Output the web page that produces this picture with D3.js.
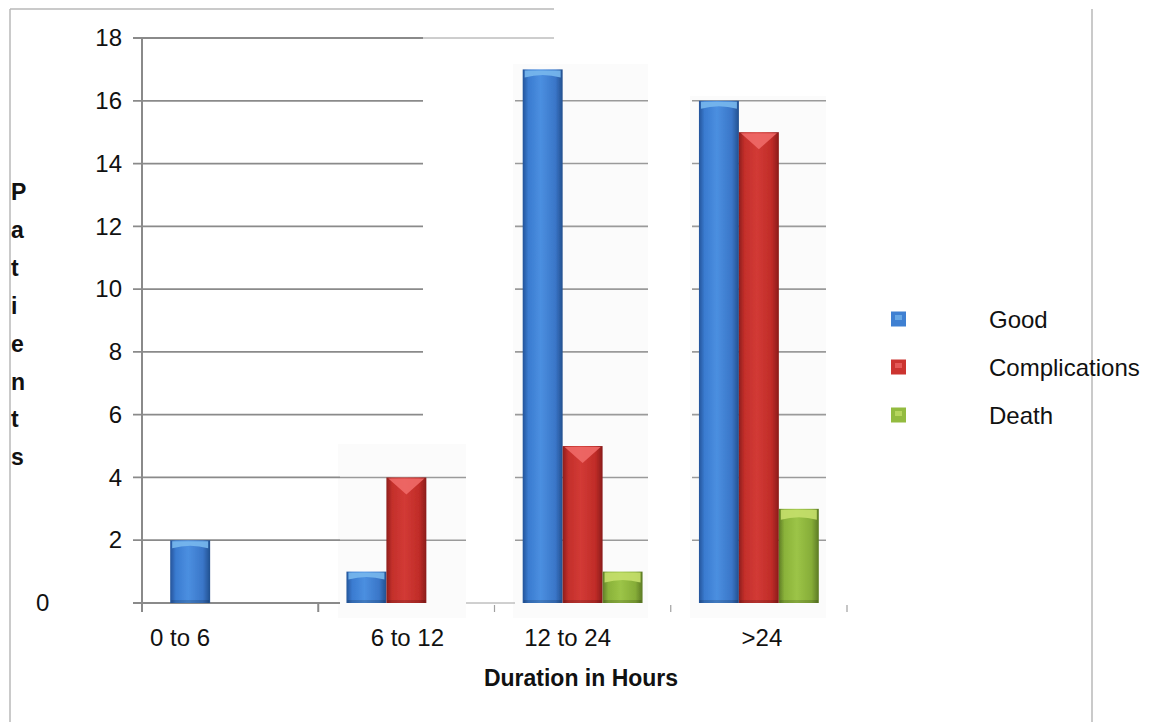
<!DOCTYPE html>
<html><head><meta charset="utf-8">
<script src="https://cdn.jsdelivr.net/npm/d3@7"></script>
<style>
html,body{margin:0;padding:0;background:#fff;}
svg{display:block;font-family:"Liberation Sans",Arial,sans-serif;}
</style></head><body>
<svg id="chart" width="1159" height="722"></svg>
<script>
// Patient outcome by duration (hours)
const categories = ["0 to 6", "6 to 12", "12 to 24", ">24"];
const seriesNames = ["Good", "Complications", "Death"];
const good = [2, 1, 17, 16];
const complications = [0, 4, 5, 15];
const death = [0, 0, 1, 3];
const yTicks = [0, 2, 4, 6, 8, 10, 12, 14, 16, 18];
const xTitle = "Duration in Hours";
const yTitle = "Patients";

const seriesValues = [good, complications, death];
const rows = [];
categories.forEach((c, ci) => seriesNames.forEach((s, si) => rows.push({cat: c, series: s, value: seriesValues[si][ci]})));

const svg = d3.select("#chart");
const x = d3.scaleBand().domain(categories).range([142, 847]);
const bw = x.bandwidth();
const xSub = d3.scaleBand().domain(seriesNames).range([bw * 0.16, bw * 0.84]);
const y = d3.scaleLinear().domain([0, 18]).range([603, 38]);

// colour ramps for the bevelled bars
const palette = {
  Good: {stops: ["#24549a", "#3a7bd0", "#4b8fe0", "#3a76c8", "#22508f"], cap: "#78b8ee", swatch: "#3f80d2"},
  Complications: {stops: ["#8e1e1c", "#c32f2b", "#d23a35", "#c02c28", "#8a1c1a"], cap: "#f06a68", swatch: "#cc3430"},
  Death: {stops: ["#5f7d26", "#8ab23a", "#9cc447", "#86ad38", "#5c7a24"], cap: "#c6e06c", swatch: "#93bb40"}
};
const defs = svg.append("defs");
seriesNames.forEach((s, i) => {
  const g = defs.append("linearGradient").attr("id", "grad" + i).attr("x1", 0).attr("x2", 1).attr("y1", 0).attr("y2", 0);
  [0, 0.14, 0.45, 0.82, 1].forEach((o, k) => g.append("stop").attr("offset", o).attr("stop-color", palette[s].stops[k]));
});
defs.append("filter").attr("id", "soft").append("feGaussianBlur").attr("stdDeviation", 0.5);

// faint backdrop behind the right-hand groups
const backdrops = [
  {x0: 338, x1: 466, y0: 444, y1: 618},
  {x0: 513, x1: 648, y0: 64, y1: 618},
  {x0: 690, x1: 826, y0: 96, y1: 618}
];
svg.selectAll(null).data(backdrops).join("rect")
  .attr("x", d => d.x0).attr("y", d => d.y0).attr("width", d => d.x1 - d.x0).attr("height", d => d.y1 - d.y0)
  .attr("fill", "#fbfbfb");

// outer frame
const frame = svg.append("g").attr("stroke", "#b8b8b8").attr("stroke-width", 1.5).attr("fill", "none");
frame.append("line").attr("x1", 10).attr("x2", 10).attr("y1", 9).attr("y2", 722);
frame.append("line").attr("x1", 10).attr("x2", 554).attr("y1", 9).attr("y2", 9);
frame.append("line").attr("x1", 1092).attr("x2", 1092).attr("y1", 9).attr("y2", 722);

// gridline pieces
const gridPieces = [
  {vals: [6, 8, 10, 12, 14, 16, 18], x0: 133, x1: 423, c: "#8a8a8a", w: 1.8},
  {vals: [2, 4], x0: 133, x1: 340, c: "#8a8a8a", w: 1.8},
  {vals: [0], x0: 133, x1: 340, c: "#8a8a8a", w: 1.8},
  {vals: [2, 4], x0: 340, x1: 466, c: "#9a9a9a", w: 1.6},
  {vals: [18], x0: 423, x1: 554, c: "#9c9c9c", w: 1},
  {vals: [0], x0: 466, x1: 515, c: "#a0a0a0", w: 1},
  {vals: [2, 4, 6, 8, 10, 12, 14, 16], x0: 515, x1: 648, c: "#9a9a9a", w: 1.6},
  {vals: [2, 4, 6, 8, 10, 12, 14, 16], x0: 692, x1: 826, c: "#9a9a9a", w: 1.6}
];
const grid = svg.append("g");
gridPieces.forEach(p => {
  grid.selectAll(null).data(p.vals).join("line")
    .attr("x1", p.x0).attr("x2", p.x1)
    .attr("y1", d => y(d)).attr("y2", d => y(d))
    .attr("stroke", p.c).attr("stroke-width", p.w);
});

// y axis line and labels
svg.append("line").attr("x1", 142).attr("x2", 142).attr("y1", y(18)).attr("y2", y(0) + 9)
  .attr("stroke", "#8a8a8a").attr("stroke-width", 2);
const yAxis = svg.append("g").attr("transform", "translate(142,0)")
  .call(d3.axisLeft(y).tickValues(yTicks).tickSize(0).tickPadding(20));
yAxis.select(".domain").remove();
yAxis.selectAll("text").attr("font-size", 24).attr("fill", "#111").attr("font-family", "Liberation Sans, Arial, sans-serif");
yAxis.selectAll(".tick").filter(d => d === 0).select("text").attr("x", -106).attr("text-anchor", "start");

// x axis tick marks at category boundaries
const bounds = categories.map(c => x(c) + bw);
svg.selectAll(null).data(bounds).join("line")
  .attr("x1", d => d).attr("x2", d => d)
  .attr("y1", (d, i) => i === 0 ? y(0) : y(0) + 2).attr("y2", y(0) + 9)
  .attr("stroke", (d, i) => i === 0 ? "#8a8a8a" : "#a0a0a0").attr("stroke-width", (d, i) => i === 0 ? 2 : 1.2);

// bars
const barG = svg.append("g");
const bars = barG.selectAll("g.bar").data(rows.filter(r => r.value > 0)).join("g").attr("class", "bar");
bars.each(function(d) {
  const g = d3.select(this);
  const si = seriesNames.indexOf(d.series);
  const x0 = x(d.cat) + xSub(d.series), w = xSub.bandwidth();
  const top = y(d.value), bot = y(0);
  g.append("rect").attr("x", x0).attr("y", top).attr("width", w).attr("height", bot - top)
    .attr("fill", `url(#grad${si})`).attr("filter", "url(#soft)");
  g.append("rect").attr("x", x0 + 1).attr("y", bot - 3).attr("width", w - 2).attr("height", 3)
    .attr("fill", "#000").attr("opacity", 0.15);
  const cap = palette[d.series].cap;
  if (d.series === "Complications") {
    g.append("path").attr("d", `M${x0 + 2},${top + 1}L${x0 + w - 2},${top + 1}L${x0 + w / 2},${top + 17}Z`)
      .attr("fill", cap).attr("opacity", 0.9).attr("filter", "url(#soft)");
  } else {
    const h = d.series === "Death" ? 9 : 6;
    g.append("path").attr("d", `M${x0 + 2},${top + 1}L${x0 + w - 2},${top + 1}L${x0 + w - 2},${top + h + 2}Q${x0 + w / 2},${top + h - 3} ${x0 + 2},${top + h + 2}Z`)
      .attr("fill", cap).attr("opacity", 0.9).attr("filter", "url(#soft)");
  }
});

// x category labels
const labelShift = [-50, 1, -15, 3];
svg.selectAll(null).data(categories).join("text")
  .attr("x", (d, i) => x(d) + bw / 2 + labelShift[i]).attr("y", 637)
  .attr("text-anchor", "middle").attr("dominant-baseline", "central")
  .attr("font-size", 24).attr("fill", "#111").text(d => d);

// axis titles
svg.append("text").attr("x", 581).attr("y", 678).attr("text-anchor", "middle").attr("dominant-baseline", "central")
  .attr("font-size", 23).attr("font-weight", "bold").attr("fill", "#111").text(xTitle);
const yt = svg.append("text").attr("font-size", 23).attr("font-weight", "bold").attr("fill", "#111");
yTitle.split("").forEach((ch, i) => {
  yt.append("tspan").attr("x", 11).attr("y", 192 + i * 37.9).attr("dominant-baseline", "central").text(ch);
});

// legend
const legend = svg.append("g");
seriesNames.forEach((s, i) => {
  const cy = 319 + i * 48;
  legend.append("rect").attr("x", 891).attr("y", cy - 7.5).attr("width", 15).attr("height", 15)
    .attr("fill", palette[s].swatch);
  legend.append("rect").attr("x", 895).attr("y", cy - 4).attr("width", 7).attr("height", 5)
    .attr("fill", palette[s].cap).attr("opacity", 0.7).attr("filter", "url(#soft)");
  legend.append("text").attr("x", 989).attr("y", cy).attr("dominant-baseline", "central")
    .attr("font-size", 24).attr("fill", "#111").text(s);
});
</script>
</body></html>
